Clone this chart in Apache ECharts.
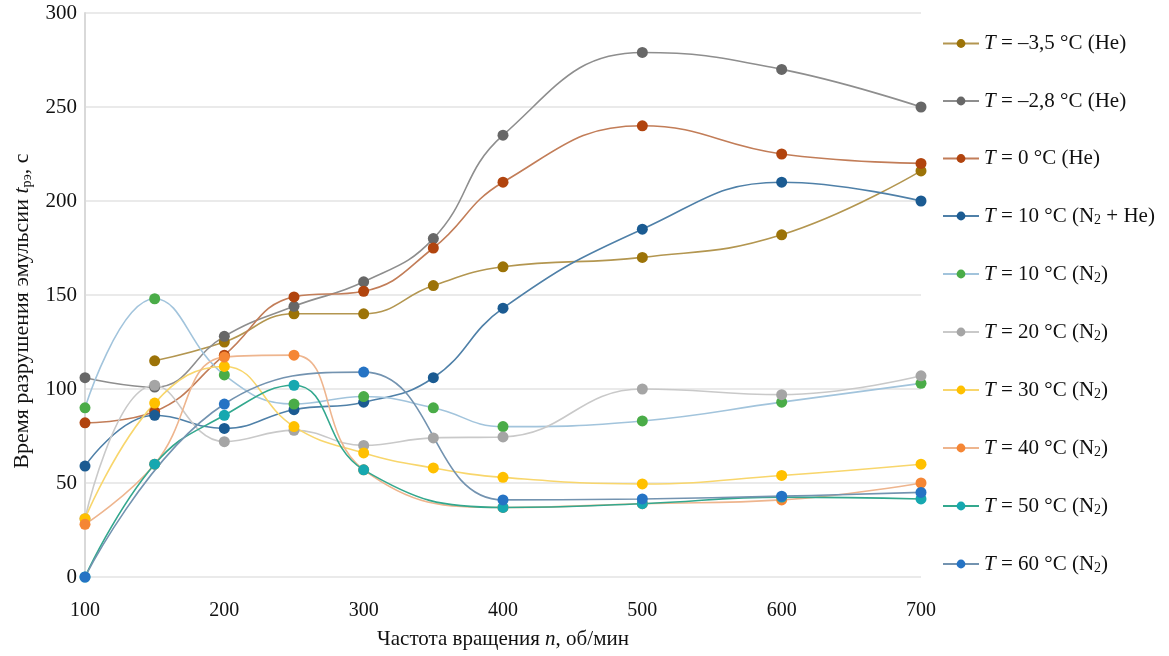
<!DOCTYPE html>
<html><head><meta charset="utf-8">
<script src="https://cdn.jsdelivr.net/npm/echarts@6/dist/echarts.min.js"></script>
<style>html,body{margin:0;padding:0;background:#fff}#c{width:1169px;height:656px}</style>
</head><body><div id="c"></div>
<script>
const speeds = [100, 150, 200, 250, 300, 350, 400, 500, 600, 700];
const seriesNames = [
  'T = –3,5 °C (He)', 'T = –2,8 °C (He)', 'T = 0 °C (He)', 'T = 10 °C (N2 + He)', 'T = 10 °C (N2)',
  'T = 20 °C (N2)', 'T = 30 °C (N2)', 'T = 40 °C (N2)', 'T = 50 °C (N2)', 'T = 60 °C (N2)'
];
const tMinus35 = [null, 115, 125, 140, 140, 155, 165, 170, 182, 216];
const tMinus28 = [106, 101, 128, 144, 157, 180, 235, 279, 270, 250];
const t0He     = [82, 88, 118, 149, 152, 175, 210, 240, 225, 220];
const t10N2He  = [59, 86, 79, 89, 93, 106, 143, 185, 210, 200];
const t10N2    = [90, 148, 107.5, 92, 96, 90, 80, 83, 93, 103];
const t20N2    = [31, 102, 72, 78, 70, 74, 74.5, 100, 97, 107];
const t30N2    = [31, 92.5, 112, 80, 66, 58, 53, 49.5, 54, 60];
const t40N2    = [28, 60, 117, 118, 57, null, 37, 39, 41, 50];
const t50N2    = [0, 60, 86, 102, 57, null, 37, 39, 42.5, 41.5];
const t60N2    = [0, null, 92, null, 109, null, 41, 41.5, 43, 45];
const allValues = [tMinus35, tMinus28, t0He, t10N2He, t10N2, t20N2, t30N2, t40N2, t50N2, t60N2];
const markerColors = ['#9c7308', '#676767', '#b1440e', '#1b5b92', '#4aac48', '#a5a5a5', '#ffc000', '#f58634', '#16a8b0', '#2573c4'];
const lineColors   = ['#b39650', '#8e8e8e', '#c27d58', '#4f80a8', '#a2c4dc', '#c9c9c9', '#f8d66c', '#eeb58e', '#33a88e', '#7393b0'];

const FONT = '"Liberation Serif", "Times New Roman", serif';
const chart = echarts.init(document.getElementById('c'), null, {renderer: 'canvas'});

function legendRich(name) {
  let rest = name.slice(1);
  let parts = rest.split('N2');
  let out = '{i|T}';
  parts.forEach((p, k) => {
    out += '{n|' + p + '}';
    if (k < parts.length - 1) out += '{n|N}{s|2}';
  });
  return out;
}

const series = allValues.map((vals, i) => ({
  name: seriesNames[i],
  type: 'line',
  smooth: 0.45,
  connectNulls: true,
  symbol: 'circle',
  symbolSize: 11,
  data: speeds.map((x, k) => [x, vals[k]]).filter(d => d[1] !== null),
  itemStyle: {color: markerColors[i]},
  lineStyle: {color: lineColors[i], width: 1.6},
  emphasis: {disabled: true}
}));

chart.setOption({
  animation: false,
  backgroundColor: '#fff',
  grid: {left: 85, right: 248, top: 13, bottom: 79, containLabel: false},
  legend: {
    orient: 'vertical',
    left: 937,
    top: 28,
    itemWidth: 36,
    itemHeight: 11,
    itemGap: 36.5,
    data: seriesNames,
    formatter: legendRich,
    textStyle: {
      fontFamily: FONT, fontSize: 21, color: '#111',
      rich: {
        i: {fontFamily: FONT, fontSize: 21, fontStyle: 'italic', color: '#111', lineHeight: 22},
        n: {fontFamily: FONT, fontSize: 21, color: '#111', lineHeight: 22},
        s: {fontFamily: FONT, fontSize: 14, color: '#111', lineHeight: 10, verticalAlign: 'bottom'}
      }
    }
  },
  xAxis: {
    type: 'value', min: 100, max: 700, interval: 100,
    name: '{n|Частота вращения }{i|n}{n|, об/мин}',
    nameLocation: 'middle', nameGap: 52,
    nameTextStyle: {
      fontFamily: FONT, fontSize: 21, color: '#111',
      rich: {
        n: {fontFamily: FONT, fontSize: 21, color: '#111'},
        i: {fontFamily: FONT, fontSize: 21, fontStyle: 'italic', color: '#111'}
      }
    },
    axisLine: {show: false},
    axisTick: {show: false},
    splitLine: {show: false},
    axisLabel: {fontFamily: FONT, fontSize: 20, color: '#111', margin: 24}
  },
  yAxis: {
    type: 'value', min: 0, max: 300, interval: 50,
    name: '{n|Время разрушения эмульсии }{i|t}{s|рэ}{n|, с}',
    nameLocation: 'middle', nameGap: 47, nameRotate: 90,
    nameTextStyle: {
      fontFamily: FONT, fontSize: 22, color: '#111',
      padding: [0, 32, 0, 0],
      rich: {
        n: {fontFamily: FONT, fontSize: 22, color: '#111', lineHeight: 24},
        i: {fontFamily: FONT, fontSize: 22, fontStyle: 'italic', color: '#111', lineHeight: 24},
        s: {fontFamily: FONT, fontSize: 14, color: '#111', lineHeight: 10, verticalAlign: 'bottom'}
      }
    },
    axisLine: {show: true, lineStyle: {color: '#d9d9d9', width: 2}},
    axisTick: {show: false},
    splitLine: {show: true, lineStyle: {color: '#e3e3e3', width: 1.5}},
    axisLabel: {fontFamily: FONT, fontSize: 21, color: '#111', margin: 8}
  },
  series: series
});
</script>
</body></html>
